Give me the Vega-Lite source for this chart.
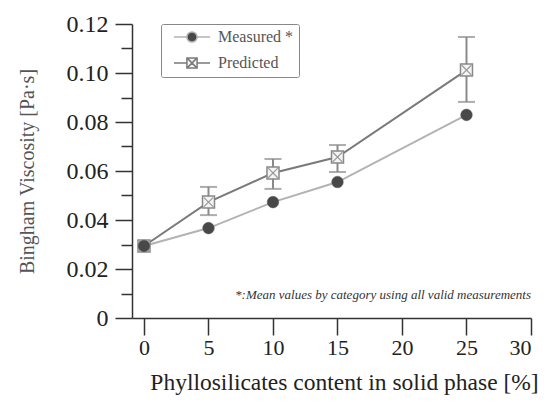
{
  "$schema": "https://vega.github.io/schema/vega-lite/v6.json",
  "width": 399,
  "height": 294,
  "autosize": {"type": "none"},
  "padding": {"left": 132, "top": 24, "right": 22, "bottom": 85},
  "background": "white",
  "config": {
    "font": "Liberation Serif",
    "view": {"stroke": null},
    "axis": {"grid": false, "domainColor": "#333", "domainWidth": 1.5, "tickColor": "#333", "tickWidth": 1.5, "labelFont": "Liberation Serif", "labelColor": "#222", "titleFont": "Liberation Serif", "titleFontWeight": "normal", "titleColor": "#222"}
  },
  "datasets": {
    "pts": [
      {"content": 0, "series": "Measured *", "visc": 0.0294},
      {"content": 5, "series": "Measured *", "visc": 0.0367},
      {"content": 10, "series": "Measured *", "visc": 0.0473},
      {"content": 15, "series": "Measured *", "visc": 0.0555},
      {"content": 25, "series": "Measured *", "visc": 0.0829},
      {"content": 0, "series": "Predicted", "visc": 0.0294, "lo": 0.0294, "hi": 0.0294},
      {"content": 5, "series": "Predicted", "visc": 0.0473, "lo": 0.042, "hi": 0.0535},
      {"content": 10, "series": "Predicted", "visc": 0.0592, "lo": 0.0527, "hi": 0.0649},
      {"content": 15, "series": "Predicted", "visc": 0.0657, "lo": 0.0596, "hi": 0.0706},
      {"content": 25, "series": "Predicted", "visc": 0.1012, "lo": 0.0882, "hi": 0.1147}
    ],
    "note": [
      {"content": 30, "visc": 0.0094, "label": "*:Mean values by category using all valid measurements"}
    ]
  },
  "data": {"name": "pts"},
  "encoding": {
    "x": {"field": "content", "type": "quantitative", "scale": {"domain": [-0.93, 30], "nice": false, "zero": false},
      "axis": {"values": [0, 5, 10, 15, 20, 25, 30], "tickSize": 17, "labelFontSize": 22, "labelPadding": 2, "title": "Phyllosilicates content in solid phase [%]", "titleFontSize": 23.5, "titlePadding": 12, "titleX": 212}},
    "y": {"field": "visc", "type": "quantitative", "scale": {"domain": [0, 0.12], "nice": false},
      "axis": {"values": [0, 0.01, 0.02, 0.03, 0.04, 0.05, 0.06, 0.07, 0.08, 0.09, 0.1, 0.11, 0.12],
        "labelExpr": "round(datum.value*100)%2==1 ? '' : (datum.value==0 ? '0' : format(datum.value, '.2f'))",
        "tickSize": {"condition": {"test": "round(datum.value*100)%2==1", "value": 11}, "value": 17},
        "labelFontSize": 24, "labelPadding": 7, "title": "Bingham Viscosity [Pa·s]", "titleFontSize": 20, "titlePadding": 29, "titleColor": "#555"}}
  },
  "layer": [
    {
      "mark": {"type": "point", "filled": true, "size": 1, "opacity": 1},
      "encoding": {
        "shape": {"field": "series", "type": "nominal",
          "scale": {"domain": ["Measured *", "Predicted"], "range": [
            "M0,0H2.15M3.85,0H6M2.15,0A0.85,0.85,0,1,1,3.85,0A0.85,0.85,0,1,1,2.15,0Z",
            "M0,0H2.15M3.85,0H6M2.15,-0.85H3.85V0.85H2.15ZM2.15,-0.85L3.85,0.85M3.85,-0.85L2.15,0.85"]},
          "legend": {"title": null, "orient": "none", "legendX": 29, "legendY": 0, "strokeColor": "#888", "cornerRadius": 2, "padding": 5, "symbolSize": 144, "symbolStrokeColor": "#666", "symbolStrokeWidth": 1.5, "symbolOpacity": 1, "labelFont": "Liberation Serif", "labelFontSize": 16, "labelColor": "#555", "labelOffset": 36, "rowPadding": 8}},
        "fill": {"field": "series", "type": "nominal", "scale": {"domain": ["Measured *", "Predicted"], "range": ["#484848", "#f4f4f4"]}}
      }
    },
    {
      "mark": {"type": "line", "strokeWidth": 2},
      "encoding": {"color": {"field": "series", "type": "nominal", "scale": {"domain": ["Measured *", "Predicted"], "range": ["#b3b3b3", "#7a7a7a"]}, "legend": null}}
    },
    {
      "transform": [{"filter": "datum.series == 'Predicted' && datum.content > 0"}],
      "mark": {"type": "rule", "color": "#8a8a8a", "strokeWidth": 2},
      "encoding": {"y": {"field": "lo", "type": "quantitative"}, "y2": {"field": "hi"}}
    },
    {
      "transform": [{"filter": "datum.series == 'Predicted' && datum.content > 0"}],
      "mark": {"type": "tick", "orient": "horizontal", "color": "#8a8a8a", "size": 17, "thickness": 2},
      "encoding": {"y": {"field": "lo", "type": "quantitative"}}
    },
    {
      "transform": [{"filter": "datum.series == 'Predicted' && datum.content > 0"}],
      "mark": {"type": "tick", "orient": "horizontal", "color": "#8a8a8a", "size": 17, "thickness": 2},
      "encoding": {"y": {"field": "hi", "type": "quantitative"}}
    },
    {
      "transform": [{"filter": "datum.series == 'Predicted'"}],
      "mark": {"type": "point", "shape": "square", "size": 144, "filled": true, "fill": "#f4f4f4", "stroke": "#888", "strokeWidth": 1.5, "opacity": 1}
    },
    {
      "transform": [{"filter": "datum.series == 'Predicted'"}],
      "mark": {"type": "point", "shape": "M-0.8,-0.8L0.8,0.8M0.8,-0.8L-0.8,0.8", "size": 144, "filled": false, "stroke": "#999", "strokeWidth": 1.2, "opacity": 1}
    },
    {
      "transform": [{"filter": "datum.series == 'Measured *'"}],
      "mark": {"type": "point", "shape": "circle", "size": 135, "filled": true, "fill": "#484848", "stroke": "#555", "strokeWidth": 0.5, "opacity": 1}
    },
    {
      "data": {"name": "note"},
      "mark": {"type": "text", "align": "right", "baseline": "middle", "font": "Liberation Serif", "fontStyle": "italic", "fontSize": 13, "color": "#333"},
      "encoding": {"text": {"field": "label"}}
    }
  ]
}
